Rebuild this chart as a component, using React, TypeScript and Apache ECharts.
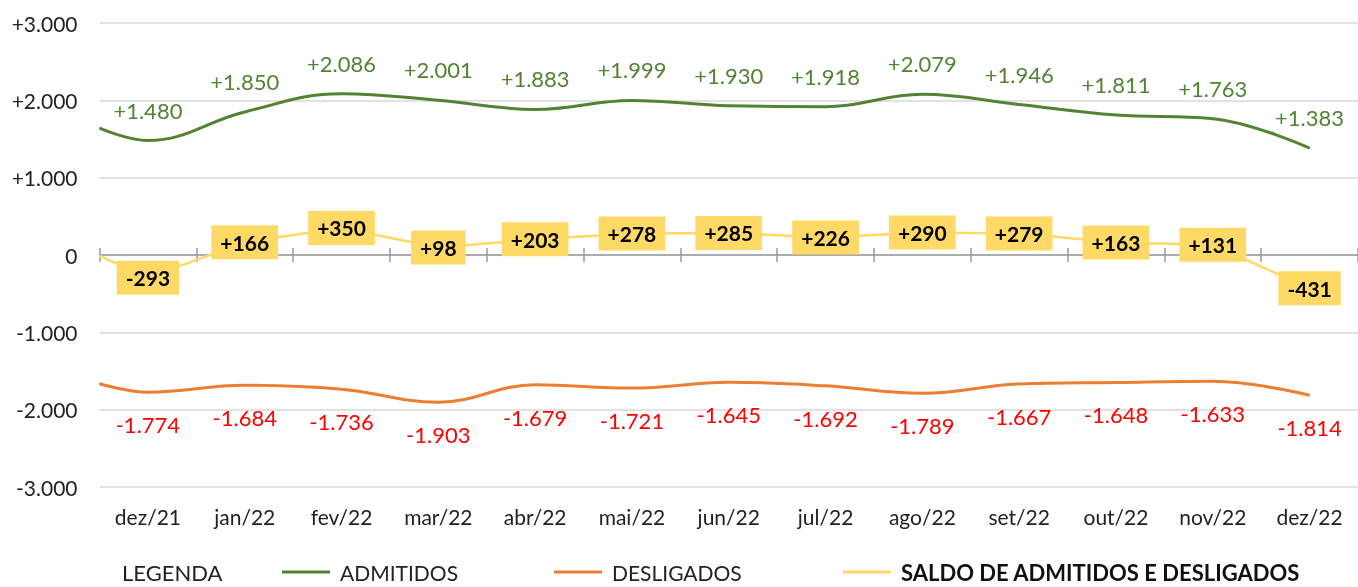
import React, { useEffect, useRef } from "react";
import * as echarts from "echarts";

const categories = ["dez/21", "jan/22", "fev/22", "mar/22", "abr/22", "mai/22", "jun/22", "jul/22", "ago/22", "set/22", "out/22", "nov/22", "dez/22"];
const admitidos = [1480, 1850, 2086, 2001, 1883, 1999, 1930, 1918, 2079, 1946, 1811, 1763, 1383];
const desligados = [-1774, -1684, -1736, -1903, -1679, -1721, -1645, -1692, -1789, -1667, -1648, -1633, -1814];
const saldo = [-293, 166, 350, 98, 203, 278, 285, 226, 290, 279, 163, 131, -431];
// values where the lines enter at the left edge of the plot (previous month, cut off)
const leadAdmitidos = 1640;
const leadDesligados = -1665;
const leadSaldo = -10;
const yTicks = { min: -3000, max: 3000, interval: 1000 };

const FONT = "Lato";
const GREEN = "#548235";
const ORANGE = "#ED7D31";
const YELLOW = "#FFD966";

const fmt = (v: number) => {
  const s = Math.abs(Math.round(v)).toString().replace(/\B(?=(\d{3})+(?!\d))/g, ".");
  return (v > 0 ? "+" : v < 0 ? "-" : "") + s;
};

const buildData = (lead: number, vals: number[]) => [
  { value: [-0.5, lead], label: { show: false } },
  ...vals.map((v, i) => ({ value: [i, v] })),
];

export default function App() {
  const ref = useRef<HTMLDivElement>(null);
  useEffect(() => {
    if (!ref.current) return;
    const chart = echarts.init(ref.current, undefined, { renderer: "svg" });
    const tickAxisBase = {
      type: "category",
      data: categories,
      boundaryGap: true,
      axisLabel: { show: false },
      splitLine: { show: false },
    };
    const legendTop = 561;
    const legendText = { color: "#222", fontFamily: FONT, fontSize: 21, lineHeight: 22, padding: [0, 0, 0, 5] };
    chart.setOption({
      animation: false,
      grid: { left: 99.5, right: -3.5, top: 23, bottom: 100, containLabel: false },
      xAxis: [
        {
          type: "category",
          data: categories,
          position: "bottom",
          boundaryGap: true,
          axisLine: { show: false, onZero: false },
          axisTick: { show: false },
          axisLabel: { color: "#222", fontFamily: FONT, fontSize: 21, margin: 19, interval: 0 },
        },
        {
          ...tickAxisBase,
          position: "top",
          axisLine: { show: true, onZero: true, onZeroAxisIndex: 0, lineStyle: { color: "#9a9a9a", width: 1.5 } },
          axisTick: { show: true, length: 7, inside: false, interval: 0, lineStyle: { color: "#9a9a9a", width: 1.5 } },
        },
        {
          ...tickAxisBase,
          position: "bottom",
          axisLine: { show: false, onZero: true, onZeroAxisIndex: 0 },
          axisTick: { show: true, length: 7, inside: false, interval: 0, lineStyle: { color: "#9a9a9a", width: 1.5 } },
        },
        { type: "value", min: -0.5, max: 12.5, show: false },
      ],
      yAxis: {
        type: "value",
        min: yTicks.min,
        max: yTicks.max,
        interval: yTicks.interval,
        axisLine: { show: false, onZero: false },
        axisTick: { show: false },
        splitLine: { lineStyle: { color: "#d9d9d9", width: 1.5 } },
        axisLabel: { color: "#222", fontFamily: FONT, fontSize: 21, margin: 22, formatter: (v: number) => fmt(v) },
      },
      legend: [
        {
          data: ["ADMITIDOS"],
          left: 282,
          top: legendTop,
          padding: 0,
          icon: "rect",
          itemWidth: 48,
          itemHeight: 3,
          textStyle: legendText,
        },
        {
          data: ["DESLIGADOS"],
          left: 554,
          top: legendTop,
          padding: 0,
          icon: "rect",
          itemWidth: 48,
          itemHeight: 3,
          textStyle: legendText,
        },
        {
          data: ["SALDO DE ADMITIDOS E DESLIGADOS"],
          left: 843,
          top: legendTop,
          padding: 0,
          icon: "rect",
          itemWidth: 48,
          itemHeight: 3,
          textStyle: { ...legendText, color: "#111", fontSize: 22, fontWeight: "bold" },
        },
      ],
      graphic: [
        {
          type: "text",
          left: 122,
          top: legendTop,
          style: { text: "LEGENDA", fill: "#222", font: `22px ${FONT}` },
        },
      ],
      series: [
        {
          name: "ADMITIDOS",
          type: "line",
          xAxisIndex: 3,
          smooth: 0.4,
          symbol: "circle",
          symbolSize: 1,
          itemStyle: { color: GREEN },
          lineStyle: { color: GREEN, width: 3 },
          label: {
            show: true,
            position: "top",
            distance: 19,
            color: GREEN,
            fontFamily: FONT,
            fontSize: 22,
            formatter: (p: any) => fmt(p.value[1]),
          },
          data: buildData(leadAdmitidos, admitidos),
          z: 2,
        },
        {
          name: "DESLIGADOS",
          type: "line",
          xAxisIndex: 3,
          smooth: 0.4,
          symbol: "circle",
          symbolSize: 1,
          itemStyle: { color: ORANGE },
          lineStyle: { color: ORANGE, width: 3 },
          label: {
            show: true,
            position: "bottom",
            distance: 21,
            color: "#FF0000",
            fontFamily: FONT,
            fontSize: 22,
            formatter: (p: any) => fmt(p.value[1]),
          },
          data: buildData(leadDesligados, desligados),
          z: 2,
        },
        {
          name: "SALDO DE ADMITIDOS E DESLIGADOS",
          type: "line",
          xAxisIndex: 3,
          smooth: false,
          symbol: "circle",
          symbolSize: 1,
          itemStyle: { color: YELLOW },
          lineStyle: { color: YELLOW, width: 2.5 },
          label: {
            show: true,
            position: "inside",
            color: "#000",
            fontFamily: FONT,
            fontSize: 21,
            fontWeight: "bold",
            backgroundColor: YELLOW,
            padding: [7, 9, 6, 9],
            formatter: (p: any) => fmt(p.value[1]),
          },
          data: buildData(leadSaldo, saldo),
          z: 3,
        },
      ],
    });
    return () => chart.dispose();
  }, []);
  return <div ref={ref} style={{ position: "fixed", left: 0, top: 0, width: 1358, height: 587 }} />;
}
